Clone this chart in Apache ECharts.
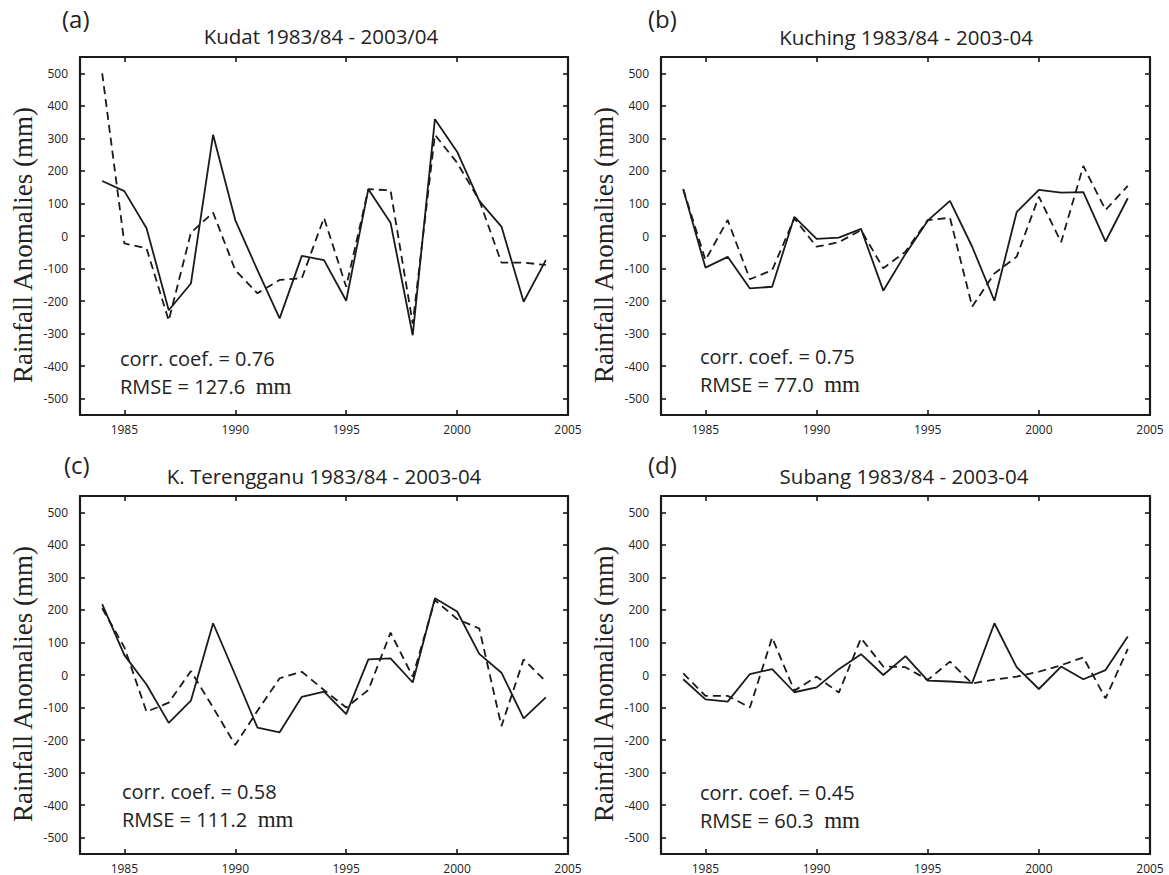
<!DOCTYPE html>
<html><head><meta charset="utf-8">
<script src="https://cdn.jsdelivr.net/npm/echarts@6/dist/echarts.min.js"></script>
<style>html,body{margin:0;padding:0;background:#fff}#c{width:1169px;height:875px}</style>
</head><body><div id="c"></div>
<script>
// ---------- data ----------
const years = [1984,1985,1986,1987,1988,1989,1990,1991,1992,1993,1994,1995,1996,1997,1998,1999,2000,2001,2002,2003,2004];
const xTicks = [1985,1990,1995,2000,2005];
const yTicks = [-500,-400,-300,-200,-100,0,100,200,300,400,500];
const panelLetters = ['(a)','(b)','(c)','(d)'];
const panelTitles = ['Kudat 1983/84 - 2003/04','Kuching 1983/84 - 2003-04','K. Terengganu 1983/84 - 2003-04','Subang 1983/84 - 2003-04'];
const corrTexts = ['corr. coef. = 0.76','corr. coef. = 0.75','corr. coef. = 0.58','corr. coef. = 0.45'];
const rmseTexts = ['RMSE = 127.6','RMSE = 77.0','RMSE = 111.2','RMSE = 60.3'];
const rmseUnit = 'mm';
const yAxisName = 'Rainfall Anomalies (mm)';

const kudatSolid   = [169,138,24,-228,-146,311,49,-105,-253,-61,-74,-199,144,41,-305,359,259,108,29,-202,-74];
const kudatDashed  = [500,-23,-38,-260,10,72,-105,-176,-135,-130,56,-156,144,140,-269,311,225,110,-82,-82,-89];
const kuchingSolid = [144,-97,-64,-161,-156,59,-9,-5,22,-168,-55,47,108,-33,-199,73,142,133,135,-17,116];
const kuchingDashed= [144,-74,49,-133,-105,54,-33,-19,18,-99,-48,49,56,-217,-115,-64,121,-19,215,80,154];
const terengSolid  = [218,61,-29,-147,-79,159,0,-162,-176,-67,-51,-120,48,51,-23,236,195,65,7,-133,-69];
const terengDashed = [205,85,-113,-85,12,-100,-215,-110,-10,10,-46,-100,-46,130,-5,230,172,143,-157,48,-20];
const subangSolid  = [-13,-75,-82,3,18,-53,-38,18,64,0,58,-17,-20,-24,159,24,-43,26,-13,15,118];
const subangDashed = [5,-64,-64,-100,115,-48,-5,-54,113,26,24,-15,41,-26,-14,-5,10,30,54,-72,80];

const solidSets  = [kudatSolid, kuchingSolid, terengSolid, subangSolid];
const dashedSets = [kudatDashed, kuchingDashed, terengDashed, subangDashed];

// ---------- layout ----------
const grids = [
  {left:80,  top:57,  width:488, height:358},
  {left:661, top:57,  width:489, height:358},
  {left:80,  top:496, width:488, height:358},
  {left:661, top:496, width:489, height:358}
];
const titlePos  = [[321,36],[906,37],[324,476],[904,476]];
const letterPos = [[62,18],[648,18],[64,464],[648,464]];
const annotPos  = [[120,344],[700,342],[122,777],[700,778]];

const INK = '#1a1a1a';
const TXT = '#222';
const SANS = '"Open Sans", "Noto Sans", sans-serif';
const SERIF = '"Liberation Serif", "DejaVu Serif", serif';

const xAxes = [], yAxes = [], series = [], graphics = [];
grids.forEach((g, i) => {
  const axLine = {show:true, onZero:false, lineStyle:{color:INK, width:2.2}};
  const tick = (vals)=>({show:true, inside:true, length:5, customValues:vals, lineStyle:{color:INK, width:1.6}});
  xAxes.push({
    gridIndex:i, type:'value', position:'bottom', min:1983, max:2005,
    axisLine:axLine, axisTick:tick(xTicks), splitLine:{show:false},
    axisLabel:{customValues:xTicks, formatter:v=>String(v), color:TXT, fontFamily:SANS, fontSize:12, margin:8}
  });
  xAxes.push({
    gridIndex:i, type:'value', position:'top', min:1983, max:2005,
    axisLine:axLine, axisTick:tick(xTicks), splitLine:{show:false}, axisLabel:{show:false}
  });
  yAxes.push({
    gridIndex:i, type:'value', position:'left', min:-550, max:550,
    axisLine:axLine, axisTick:tick(yTicks), splitLine:{show:false},
    axisLabel:{customValues:yTicks, formatter:v=>String(v), color:TXT, fontFamily:SANS, fontSize:12, margin:12},
    name:yAxisName, nameLocation:'middle', nameGap:44,
    nameTextStyle:{fontFamily:SERIF, fontSize:27, color:TXT, padding:[0,18,0,0]}
  });
  yAxes.push({
    gridIndex:i, type:'value', position:'right', min:-550, max:550,
    axisLine:axLine, axisTick:tick(yTicks), splitLine:{show:false}, axisLabel:{show:false}
  });
  series.push({
    type:'line', xAxisIndex:2*i, yAxisIndex:2*i, showSymbol:false, symbol:'none',
    data: years.map((y,k)=>[y, dashedSets[i][k]]),
    lineStyle:{color:INK, width:1.8, type:[8,5]}, z:2
  });
  series.push({
    type:'line', xAxisIndex:2*i, yAxisIndex:2*i, showSymbol:false, symbol:'none',
    data: years.map((y,k)=>[y, solidSets[i][k]]),
    lineStyle:{color:INK, width:1.8, type:'solid'}, z:3
  });
  graphics.push({
    type:'text', x:titlePos[i][0], y:titlePos[i][1],
    style:{text:panelTitles[i], fontFamily:SANS, fontSize:20.5, fill:TXT, align:'center', verticalAlign:'middle'}
  });
  graphics.push({
    type:'text', x:letterPos[i][0], y:letterPos[i][1],
    style:{text:panelLetters[i], fontFamily:SANS, fontSize:24, fill:TXT, align:'left', verticalAlign:'middle'}
  });
  graphics.push({
    type:'text', x:annotPos[i][0], y:annotPos[i][1],
    style:{
      text:'{s|' + corrTexts[i] + '}\n{s|' + rmseTexts[i] + '  }{m|' + rmseUnit + '}',
      align:'left', verticalAlign:'top',
      rich:{
        s:{fontFamily:SANS, fontSize:20, lineHeight:28, fill:TXT},
        m:{fontFamily:SERIF, fontSize:23, lineHeight:28, fill:TXT}
      }
    }
  });
});

const chart = echarts.init(document.getElementById('c'), null, {renderer:'svg'});
chart.setOption({
  animation:false,
  backgroundColor:'#fff',
  grid: grids.map(g=>Object.assign({containLabel:false}, g)),
  xAxis: xAxes,
  yAxis: yAxes,
  series: series,
  graphic: graphics
});
</script>
</body></html>
